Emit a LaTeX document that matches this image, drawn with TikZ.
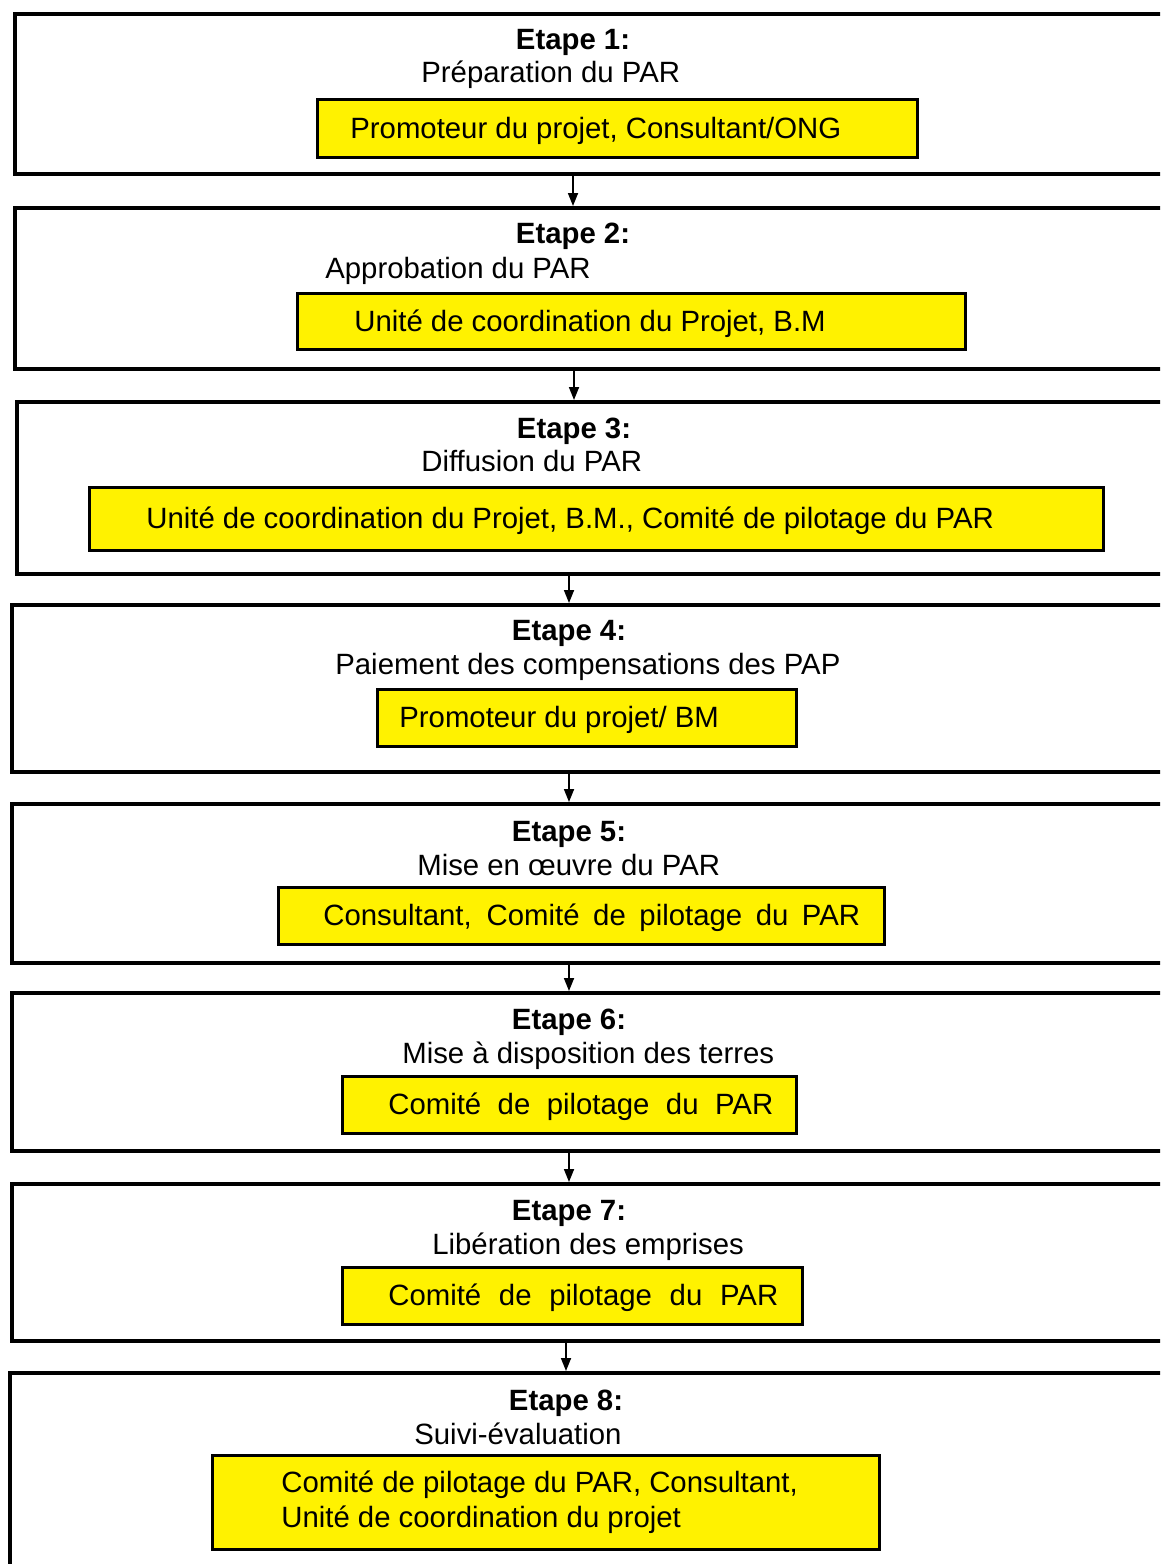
\documentclass[tikz,border=0pt]{standalone}
\usepackage{fontspec}
\setmainfont{Liberation Sans}
\usetikzlibrary{positioning,arrows.meta}

\begin{document}
\begin{tikzpicture}[
  x=0.02cm, y=-0.02cm,
  font=\fontsize{16.7}{20}\selectfont,
  stepbox/.style={draw, line width=2.2pt, minimum width=23.8cm,
                  anchor=north west, inner sep=0},
  rolebox/.style={draw, line width=1.8pt, fill=yellow,
                  anchor=north west, inner sep=0},
  txt/.style={inner sep=0, text height=0.72em, text depth=0.21em, yshift=-0.1cm},
  steptitle/.style={txt, font=\fontsize{16.7}{20}\selectfont\bfseries},
  stepname/.style={txt, anchor=west},
  roletext/.style={txt, anchor=west},
  arrow/.style={-{Triangle[length=0.26cm, width=0.2cm]}, line width=1pt}
]
  \useasboundingbox (0,0) rectangle (1160,1564);
  \clip (0,0) rectangle (1160,1564);

  % Etape 1
  \node[stepbox, minimum height=3.2cm] (s1) at (13,12) {};
  \node[steptitle] (t1) at (573,40) {Etape 1:};
  \node[stepname] (n1) at (421,73) {Préparation du PAR};
  \node[rolebox, minimum width=12cm, minimum height=1.16cm] (r1) at (316,98) {};
  \node[roletext, xshift=0.68cm] (r1t) at (r1.west) {Promoteur du projet, Consultant/ONG};

  % Etape 2
  \node[stepbox, minimum height=3.22cm] (s2) at (13,206) {};
  \node[steptitle] (t2) at (573,234) {Etape 2:};
  \node[stepname] (n2) at (325,269) {Approbation du PAR};
  \node[rolebox, minimum width=13.36cm, minimum height=1.12cm] (r2) at (296,292) {};
  \node[roletext, xshift=1.16cm] (r2t) at (r2.west) {Unité de coordination du Projet, B.M};

  % Etape 3
  \node[stepbox, minimum height=3.44cm] (s3) at (15,400) {};
  \node[steptitle] (t3) at (574,429) {Etape 3:};
  \node[stepname] (n3) at (421,462) {Diffusion du PAR};
  \node[rolebox, minimum width=20.28cm, minimum height=1.26cm] (r3) at (88,486) {};
  \node[roletext, xshift=1.16cm] (r3t) at (r3.west) {Unité de coordination du Projet, B.M., Comité de pilotage du PAR};

  % Etape 4
  \node[stepbox, minimum height=3.34cm] (s4) at (10,603) {};
  \node[steptitle] (t4) at (569,631) {Etape 4:};
  \node[stepname] (n4) at (335,665) {Paiement des compensations des PAP};
  \node[rolebox, minimum width=8.38cm, minimum height=1.14cm] (r4) at (376,688) {};
  \node[roletext, xshift=0.46cm] (r4t) at (r4.west) {Promoteur du projet/ BM};

  % Etape 5
  \node[stepbox, minimum height=3.18cm] (s5) at (10,802) {};
  \node[steptitle] (t5) at (569,832) {Etape 5:};
  \node[stepname] (n5) at (417,866) {Mise en \oe uvre du PAR};
  \node[rolebox, minimum width=12.12cm, minimum height=1.14cm] (r5) at (277,886) {};
  \node[roletext, xshift=0.92cm] (r5t) at (r5.west)
    {\makebox[10.74cm][s]{Consultant, Comité de pilotage du PAR}};

  % Etape 6
  \node[stepbox, minimum height=3.16cm] (s6) at (10,991) {};
  \node[steptitle] (t6) at (569,1020) {Etape 6:};
  \node[stepname] (n6) at (402,1054) {Mise à disposition des terres};
  \node[rolebox, minimum width=9.08cm, minimum height=1.14cm] (r6) at (341,1075) {};
  \node[roletext, xshift=0.94cm] (r6t) at (r6.west)
    {\makebox[7.7cm][s]{Comité de pilotage du PAR}};

  % Etape 7
  \node[stepbox, minimum height=3.14cm] (s7) at (10,1182) {};
  \node[steptitle] (t7) at (569,1211) {Etape 7:};
  \node[stepname] (n7) at (432,1245) {Libération des emprises};
  \node[rolebox, minimum width=9.2cm, minimum height=1.14cm] (r7) at (341,1266) {};
  \node[roletext, xshift=0.94cm] (r7t) at (r7.west)
    {\makebox[7.8cm][s]{Comité de pilotage du PAR}};

  % Etape 8
  \node[stepbox, minimum height=5cm] (s8) at (8,1371) {};
  \node[steptitle] (t8) at (566,1401) {Etape 8:};
  \node[stepname] (n8) at (414,1435) {Suivi-évaluation};
  \node[rolebox, minimum width=13.34cm, minimum height=1.88cm] (r8) at (211,1454) {};
  \node[anchor=west, inner sep=0, align=left, xshift=1.4cm] (r8t) at (r8.west)
    {Comité de pilotage du PAR, Consultant,\\Unité de coordination du projet};

  % liaisons
  \draw[arrow] (t2 |- s1.south) -- (t2 |- s2.north);
  \draw[arrow] (t3 |- s2.south) -- (t3 |- s3.north);
  \draw[arrow] (t4 |- s3.south) -- (t4 |- s4.north);
  \draw[arrow] (t5 |- s4.south) -- (t5 |- s5.north);
  \draw[arrow] (t6 |- s5.south) -- (t6 |- s6.north);
  \draw[arrow] (t7 |- s6.south) -- (t7 |- s7.north);
  \draw[arrow] (t8 |- s7.south) -- (t8 |- s8.north);
\end{tikzpicture}
\end{document}
